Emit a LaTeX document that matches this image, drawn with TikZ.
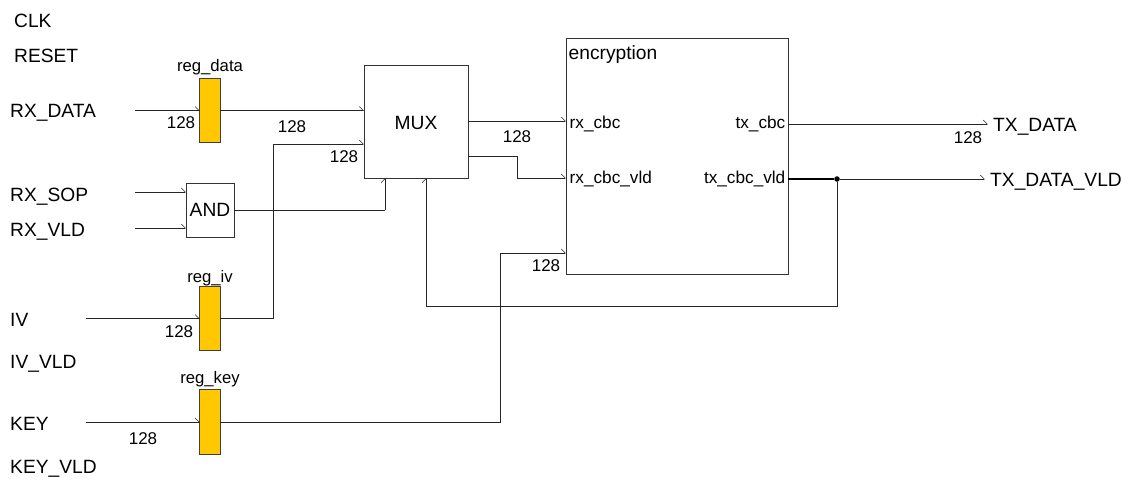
\documentclass[tikz,border=0pt]{standalone}
\usepackage{fontspec}
\setmainfont{Liberation Sans}
\usetikzlibrary{arrows.meta}
\newcommand{\fbig}{\fontsize{19.2}{21}\selectfont}
\newcommand{\fnum}{\fontsize{17}{19}\selectfont}
\newcommand{\freg}{\fontsize{16.7}{18}\selectfont}
\newcommand{\fport}{\fontsize{17.2}{19}\selectfont}
\begin{document}
\begin{tikzpicture}[x=1pt,y=-1pt,
  sig/.style={draw=black!85,line width=0.8pt},
  tip/.style={-{Straight Barb[left,length=4pt,width=8pt,line width=0.6pt]}},
  regbox/.style={draw=black!75,fill={rgb,255:red,255;green,200;blue,0},line width=0.8pt,minimum width=20.5pt,minimum height=64.5pt,inner sep=0pt,outer sep=0pt},
  blk/.style={draw=black!80,fill=white,line width=0.8pt,inner sep=0pt,outer sep=0pt},
  lbl/.style={anchor=base west,inner sep=0pt,font=\fbig},
  num/.style={anchor=base,inner sep=0pt,font=\fnum},
  rl/.style={anchor=base,inner sep=0pt,font=\freg},
  port/.style={inner sep=0pt,font=\fport},
  dot/.style={circle,fill=black,inner sep=0pt,minimum size=5.5pt}]
\useasboundingbox (0,0) rectangle (1131,481);

% left labels
\node[lbl] (clk) at (14,28) {CLK};
\node[lbl] (rst) at (14,63) {RESET};
\node[lbl] (lrxd) at (10,118) {RX\_DATA};
\node[lbl] (lrxs) at (10,201.5) {RX\_SOP};
\node[lbl] (lrxv) at (10,236.5) {RX\_VLD};
\node[lbl] (liv) at (10,326) {IV};
\node[lbl] (livv) at (10,368) {IV\_VLD};
\node[lbl] (lkey) at (10,430) {KEY};
\node[lbl] (lkeyv) at (10,473.5) {KEY\_VLD};

% blocks
\node[regbox] (regd) at (210,110.5) {};
\node[regbox] (regi) at (210,318.5) {};
\node[regbox] (regk) at (210,422) {};
\node[rl] (lregd) at (210,72) {reg\_data};
\node[rl] (lregi) at (210,282) {reg\_iv};
\node[rl] (lregk) at (210,383.5) {reg\_key};

\node[blk,minimum width=48pt,minimum height=54pt] (and) at (210,210) {};
\node[anchor=base,inner sep=0pt,font=\fbig] (andt) at (210,216.8) {AND};

\node[blk,minimum width=104pt,minimum height=113pt] (mux) at (416,121.5) {};
\node[anchor=base,inner sep=0pt,font=\fontsize{19.2}{21}\selectfont] (muxt) at (416,130) {MUX};

\node[blk,minimum width=222pt,minimum height=236pt] (enc) at (677,156) {};
\node[port,anchor=base west,font=\fontsize{19.2}{21}\selectfont] (enct) at (568.5,60) {encryption};
\node[port,anchor=base west] (prx) at (569.5,129) {rx\_cbc};
\node[port,anchor=base west] (prxv) at (569.5,183) {rx\_cbc\_vld};
\node[port,anchor=base east] (ptx) at (785.5,129) {tx\_cbc};
\node[port,anchor=base east] (ptxv) at (785.5,183) {tx\_cbc\_vld};

% outputs labels
\node[lbl] (ltx) at (993,132) {TX\_DATA};
\node[lbl] (ltxv) at (990,186) {TX\_DATA\_VLD};

% width labels
\node[num] (n1) at (181,129) {128};
\node[num] (n2) at (292,133) {128};
\node[num] (n3) at (344,163) {128};
\node[num] (n4) at (517,143) {128};
\node[num] (n5) at (179,337) {128};
\node[num] (n6) at (143,444) {128};
\node[num] (n7) at (546,271) {128};
\node[num] (n8) at (968,144) {128};

% coordinates
\coordinate (srxd) at (135,110.5);
\coordinate (srxs) at (135,192);
\coordinate (srxv) at (135,228);
\coordinate (siv) at (86,318.5);
\coordinate (skey) at (86,422);
\coordinate (ivb1) at (273,318.5);
\coordinate (ivb2) at (273,144);
\coordinate (mi2) at (364,144);
\coordinate (andb) at (385,210);
\coordinate (mi3) at (385,178);
\coordinate (mi4) at (426,178);
\coordinate (fb1) at (426,306);
\coordinate (fb2) at (837,306);
\coordinate (mo1) at (468,121);
\coordinate (ei1) at (566,121);
\coordinate (mo2) at (468,156);
\coordinate (mb1) at (517,156);
\coordinate (mb2) at (517,178);
\coordinate (ei2) at (566,178);
\coordinate (kb1) at (500,422);
\coordinate (kb2) at (500,253);
\coordinate (ei3) at (566,253);
\coordinate (eo1) at (788,124);
\coordinate (eo2) at (788,179);
\coordinate (otx) at (988,124);
\coordinate (otxv) at (985,179);
\node[dot] (j) at (837,179) {};

% connectors
\draw[sig,tip] (srxd) -- (srxd -| regd.west);
\draw[sig,tip] (regd.east) -- (regd.east -| mux.west);
\draw[sig,tip] (srxs) -- (srxs -| and.west);
\draw[sig,tip] (srxv) -- (srxv -| and.west);
\draw[sig] (and.east) -- (andb);
\draw[sig,tip] (andb) -- (mi3);
\draw[sig,tip] (siv) -- (siv -| regi.west);
\draw[sig] (regi.east) -- (ivb1) -- (ivb2);
\draw[sig,tip] (ivb2) -- (mi2);
\draw[sig,tip] (skey) -- (skey -| regk.west);
\draw[sig] (regk.east) -- (kb1) -- (kb2);
\draw[sig,tip] (kb2) -- (ei3);
\draw[sig,tip] (mo1) -- (ei1);
\draw[sig] (mo2) -- (mb1) -- (mb2);
\draw[sig,tip] (mb2) -- (ei2);
\draw[sig,tip] (eo1) -- (otx);
\draw[draw=black,line width=1.4pt] (eo2) -- (j);
\draw[sig,tip] (j) -- (otxv);
\draw[sig] (j) -- (fb2) -- (fb1);
\draw[sig,tip] (fb1) -- (mi4);
\end{tikzpicture}
\end{document}
